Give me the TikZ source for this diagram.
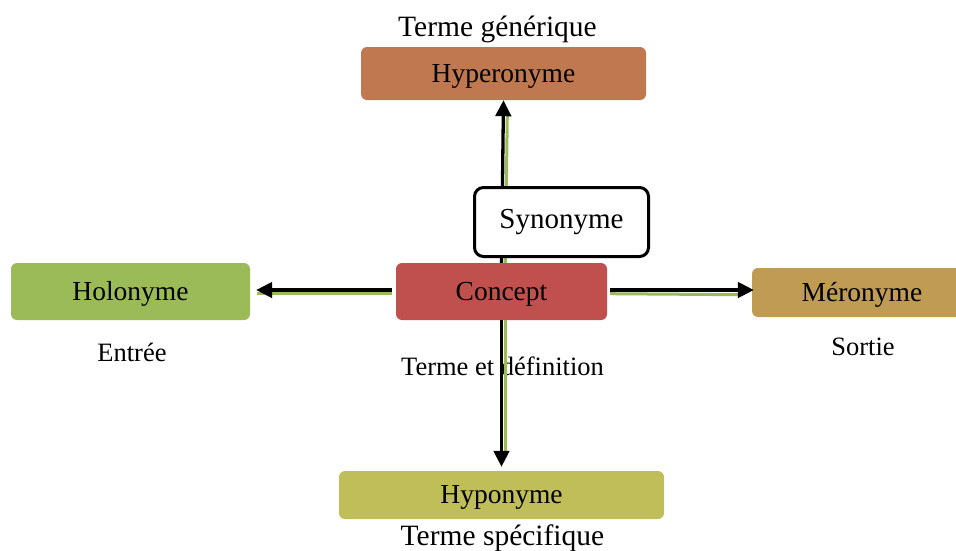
\documentclass[tikz,border=0pt]{standalone}
\usepackage{fontspec}
\setmainfont{Liberation Serif}
\usetikzlibrary{arrows.meta}

\definecolor{hyperC}{RGB}{192,120,80}
\definecolor{conceptC}{RGB}{192,80,77}
\definecolor{holoC}{RGB}{155,187,89}
\definecolor{meroC}{RGB}{191,155,83}
\definecolor{hypoC}{RGB}{191,190,88}
\definecolor{shadowC}{RGB}{155,187,89}

\tikzset{
  box/.style={rounded corners=6pt, inner sep=0pt, text height=17pt, text depth=0pt,
    font=\fontsize{27.5}{33}\selectfont},
  synbox/.style={draw=black, line width=3pt, fill=white, rounded corners=9pt, inner sep=0pt,
    text height=13pt, text depth=0pt, font=\fontsize{29}{34}\selectfont},
  label/.style={anchor=base, inner sep=0pt, font=\fontsize{26.5}{31}\selectfont},
  biglabel/.style={label, font=\fontsize{29.5}{35}\selectfont},
  arr/.style={line width=3.3pt, -{Triangle[length=16pt,width=15.5pt]}},
  shadowline/.style={draw=shadowC, line width=3pt},
}

\begin{document}
\begin{tikzpicture}[x=1pt,y=-1pt]
\useasboundingbox (0,0) rectangle (956,550);

% coloured boxes
\node[box, fill=hyperC, minimum width=285pt, minimum height=53pt] (hyper) at (503.5,73.5) {Hyperonyme};
\node[box, fill=conceptC, minimum width=211pt, minimum height=57pt] (concept) at (501.5,291.5) {Concept};
\node[box, fill=holoC, minimum width=239pt, minimum height=57pt] (holo) at (130.5,291.5) {Holonyme};
\node[box, fill=meroC, minimum width=220pt, minimum height=49pt] (mero) at (862,292.5) {Méronyme};
\node[box, fill=hypoC, minimum width=325pt, minimum height=48pt] (hypo) at (501.5,495) {Hyponyme};

% captions
\node[biglabel] (tgen) at (497.5,36.5) {Terme générique};
\node[label] (tin) at (132,361) {Entrée};
\node[label] (tout) at (863,355) {Sortie};
\node[label] (tdef) at (502.5,375) {Terme et définition};
\node[biglabel] (tspec) at (502.5,545.5) {Terme spécifique};

% green shadow strokes
\draw[shadowline] ([xshift=3.8pt]concept.north) -- ([xshift=3.8pt,yshift=-15pt]hyper.south);
\draw[shadowline] ([xshift=3.8pt]concept.south) -- ([xshift=3.8pt,yshift=19pt]hypo.north);
\draw[shadowline] ([xshift=-4pt,yshift=-2.2pt]concept.west) -- ([xshift=7pt,yshift=-2.2pt]holo.east);
\draw[shadowline] ([xshift=3pt,yshift=-2.2pt]concept.east) -- ([xshift=-14pt,yshift=-2.2pt]mero.west);

% black arrows
\draw[arr] (concept.north) -- (hyper.south);
\draw[arr, shorten >=4pt] (concept.south) -- (hypo.north);
\draw[arr, shorten <=4pt, shorten >=6pt] ([yshift=1.5pt]concept.west) -- ([yshift=1.5pt]holo.east);
\draw[arr, shorten <=3pt, shorten >=-2pt] ([yshift=1.5pt]concept.east) -- ([yshift=1.5pt]mero.west |- concept.east);

% synonym box over the upward arrow
\node[synbox, minimum width=174pt, minimum height=69pt] (syn) at (561.5,222) {Synonyme};
\end{tikzpicture}
\end{document}
